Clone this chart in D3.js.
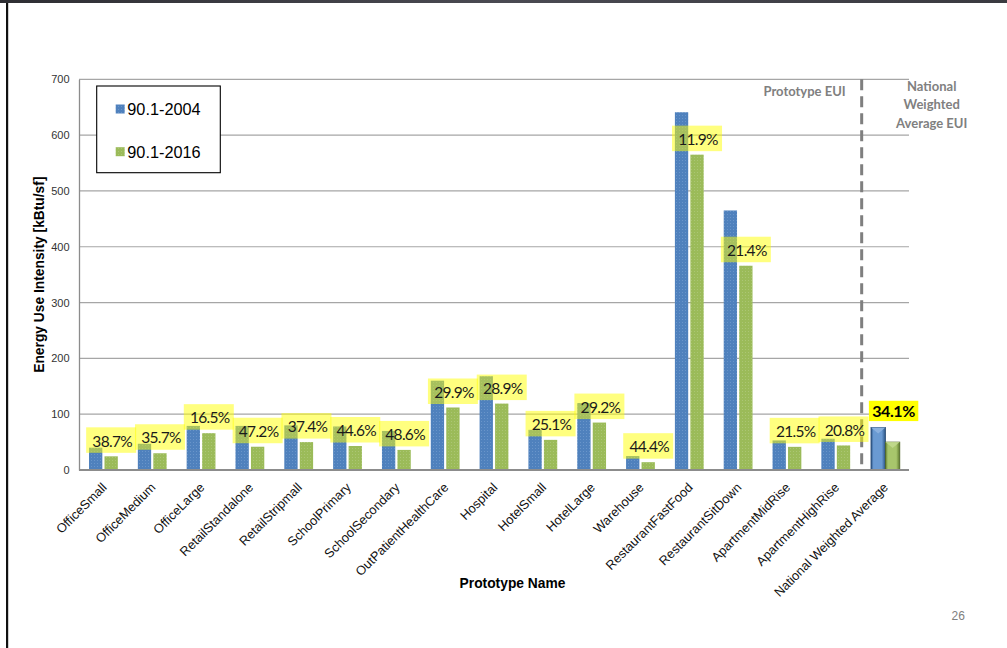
<!DOCTYPE html>
<html>
<head>
<meta charset="utf-8">
<script src="https://cdn.jsdelivr.net/npm/d3@7"></script>
<style>
  html, body { margin: 0; padding: 0; background: #fff; }
  svg { display: block; }
</style>
</head>
<body>
<svg id="chart" width="1007" height="648"></svg>
<script>
// ---------------- data ----------------
const categories = [
  "OfficeSmall", "OfficeMedium", "OfficeLarge", "RetailStandalone", "RetailStripmall",
  "SchoolPrimary", "SchoolSecondary", "OutPatientHealthCare", "Hospital", "HotelSmall",
  "HotelLarge", "Warehouse", "RestaurantFastFood", "RestaurantSitDown", "ApartmentMidRise",
  "ApartmentHighRise", "National Weighted Average"
];
const seriesNames = ["90.1-2004", "90.1-2016"];
const eui2004 = [40, 47, 79, 79, 80, 78, 70, 160, 168, 72, 120, 25, 641, 465, 53, 56, 76];
const eui2016 = [24.5, 30, 66, 41.7, 50, 43, 36, 112, 119, 54, 85, 14, 565, 366, 41.5, 44, 50];
const savings = ["38.7%", "35.7%", "16.5%", "47.2%", "37.4%", "44.6%", "48.6%", "29.9%", "28.9%",
                 "25.1%", "29.2%", "44.4%", "11.9%", "21.4%", "21.5%", "20.8%", "34.1%"];
const yTicks = [0, 100, 200, 300, 400, 500, 600, 700];
const nationalIndex = categories.length - 1;

// ---------------- setup ----------------
const svg = d3.select("#chart");
const X0 = 79, X1 = 909, Y0 = 470, Y1 = 79.3;
const SANS = "'Liberation Sans', Arial, sans-serif";
const CAL = "Lato, 'Open Sans', sans-serif";

const x = d3.scaleBand().domain(categories).range([X0, X1]).padding(0);
const y = d3.scaleLinear().domain([0, 700]).range([Y0, Y1]);
const inner = d3.scaleBand().domain(seriesNames).range([-14.4, 14.4]).paddingInner(0.14);
const innerNat = d3.scaleBand().domain(seriesNames).range([-13.6, 15.2]).paddingInner(0);

const defs = svg.append("defs");
// textured patterns for bars
[["pBlue", "#4f81bd", "#7aa1d2"], ["pGreen", "#9bbb59", "#b5cd85"]].forEach(([id, base, light]) => {
  const p = defs.append("pattern").attr("id", id).attr("patternUnits", "userSpaceOnUse")
    .attr("width", 3).attr("height", 3);
  p.append("rect").attr("width", 3).attr("height", 3).attr("fill", base);
  p.append("rect").attr("x", 1).attr("y", 1).attr("width", 1).attr("height", 1).attr("fill", light).attr("opacity", 0.6);
});
// gradients for national 3D bars
[["gBlue", "#2c5587", "#6a9ad2"], ["gGreen", "#5f7a2e", "#a8c66c"]].forEach(([id, dark, light]) => {
  const g = defs.append("linearGradient").attr("id", id).attr("x1", "0").attr("x2", "1").attr("y1", "0").attr("y2", "0");
  g.append("stop").attr("offset", "0%").attr("stop-color", dark);
  g.append("stop").attr("offset", "18%").attr("stop-color", light);
  g.append("stop").attr("offset", "75%").attr("stop-color", light);
  g.append("stop").attr("offset", "100%").attr("stop-color", dark);
});

// ---------------- slide frame ----------------
const topGrad = defs.append("linearGradient").attr("id", "gTop").attr("x1", "0").attr("x2", "1");
topGrad.append("stop").attr("offset", "0%").attr("stop-color", "#2e2e33");
topGrad.append("stop").attr("offset", "50%").attr("stop-color", "#4a4a52");
topGrad.append("stop").attr("offset", "100%").attr("stop-color", "#3a3a40");
svg.append("rect").attr("x", 0).attr("y", 0).attr("width", 1007).attr("height", 3).attr("fill", "url(#gTop)");
svg.append("rect").attr("x", 6).attr("y", 3).attr("width", 2.2).attr("height", 645).attr("fill", "#111");

// ---------------- grid & axes ----------------
svg.append("g").selectAll("line").data(yTicks.filter(t => t > 0)).join("line")
  .attr("x1", X0).attr("x2", X1)
  .attr("y1", d => y(d)).attr("y2", d => y(d))
  .attr("stroke", "#a6a6a6").attr("stroke-width", 1.2);

const yAxis = svg.append("g").attr("transform", `translate(${X0},0)`)
  .call(d3.axisLeft(y).tickValues(yTicks).tickSize(0).tickPadding(9.5));
yAxis.select(".domain").attr("stroke", "#8c8c8c").attr("stroke-width", 1.3);
yAxis.selectAll("text").attr("font-family", SANS)
  .attr("font-size", 11).attr("fill", "#333");

// ---------------- bars ----------------
const series = [eui2004, eui2016];
const barsG = svg.append("g");
categories.forEach((cat, i) => {
  if (i === nationalIndex) return;
  series.forEach((vals, s) => {
    barsG.append("rect")
      .attr("x", x(cat) + x.bandwidth() / 2 + inner(seriesNames[s]))
      .attr("y", y(vals[i]))
      .attr("width", inner.bandwidth())
      .attr("height", y(0) - y(vals[i]))
      .attr("fill", s === 0 ? "url(#pBlue)" : "url(#pGreen)");
  });
});
// national 3D bars
series.forEach((vals, s) => {
  const cat = categories[nationalIndex];
  const bx = x(cat) + x.bandwidth() / 2 + innerNat(seriesNames[s]);
  const bw = innerNat.bandwidth();
  const by = y(vals[nationalIndex]);
  barsG.append("rect").attr("x", bx).attr("y", by).attr("width", bw).attr("height", y(0) - by)
    .attr("fill", s === 0 ? "url(#gBlue)" : "url(#gGreen)")
    .attr("stroke", s === 0 ? "#24466f" : "#4f6626").attr("stroke-width", 0.8);
  barsG.append("polygon")
    .attr("points", `${bx},${by} ${bx + bw},${by} ${bx + bw / 2},${by + 6}`)
    .attr("fill", s === 0 ? "#8fb4e0" : "#c3da8f").attr("opacity", 0.85);
});

// x axis line
svg.append("line").attr("x1", X0).attr("x2", X1).attr("y1", Y0).attr("y2", Y0)
  .attr("stroke", "#8c8c8c").attr("stroke-width", 2.2);

// x labels
svg.append("g").selectAll("text").data(categories).join("text")
  .attr("transform", d => `translate(${x(d) + x.bandwidth() / 2 + 1},${Y0 + 15}) rotate(-45)`)
  .attr("text-anchor", "end").attr("dy", "0.35em")
  .attr("font-family", SANS).attr("font-size", 12.8)
  .attr("fill", "#111").text(d => d);

// ---------------- dashed separator ----------------
const sepX = x(categories[nationalIndex]) + 1.5;
svg.append("line").attr("x1", sepX).attr("x2", sepX).attr("y1", y(700)).attr("y2", Y0 - 3)
  .attr("stroke", "#7f7f7f").attr("stroke-width", 3).attr("stroke-dasharray", "11,6");

// ---------------- percentage labels ----------------
const labG = svg.append("g");
categories.forEach((cat, i) => {
  const cx = x(cat) + x.bandwidth() / 2 + inner(seriesNames[1]) + inner.bandwidth() / 2;
  if (i === nationalIndex) {
    const nx = x(cat) + x.bandwidth() / 2 + 9;
    const bottom = y(eui2004[i]) - 6.5;
    labG.append("rect").attr("x", nx - 24.7).attr("y", bottom - 20.3).attr("width", 49.4).attr("height", 20.3)
      .attr("fill", "#ffff00");
    labG.append("text").attr("x", nx).attr("y", bottom - 10.15).attr("dy", "0.36em")
      .attr("text-anchor", "middle").attr("font-family", CAL)
      .attr("font-weight", "bold").attr("font-size", 16).attr("letter-spacing", "-0.4")
      .attr("fill", "#000").text(savings[i]);
    return;
  }
  const bottom = y(eui2016[i]) - 3.5;
  labG.append("rect").attr("x", cx - 25).attr("y", bottom - 25.5).attr("width", 50).attr("height", 25.5)
    .attr("fill", "#ffff00").attr("opacity", 0.5);
  labG.append("text").attr("x", cx + 1).attr("y", bottom - 12.2).attr("dy", "0.38em")
    .attr("text-anchor", "middle").attr("font-family", CAL)
    .attr("font-size", 15.5).attr("letter-spacing", "-0.7").attr("fill", "#1a1a1a").text(savings[i]);
});

// ---------------- legend ----------------
const lg = svg.append("g");
lg.append("rect").attr("x", 96.7).attr("y", 86).attr("width", 123.6).attr("height", 86.7)
  .attr("fill", "#fff").attr("stroke", "#000").attr("stroke-width", 1.1);
seriesNames.forEach((n, s) => {
  const cy = 109 + s * 42.7;
  lg.append("rect").attr("x", 115.7).attr("y", cy - 4.5).attr("width", 9).attr("height", 9)
    .attr("fill", s === 0 ? "url(#pBlue)" : "url(#pGreen)");
  lg.append("text").attr("x", 127.3).attr("y", cy).attr("dy", "0.36em")
    .attr("font-family", SANS).attr("font-size", 16.3)
    .attr("fill", "#000").text(n);
});

// ---------------- titles & annotations ----------------
svg.append("text").attr("transform", `translate(39,${(Y0 + Y1) / 2}) rotate(-90)`)
  .attr("text-anchor", "middle").attr("dy", "0.35em").attr("font-family", SANS)
  .attr("font-weight", "bold").attr("font-size", 13.8).attr("fill", "#000")
  .text("Energy Use Intensity [kBtu/sf]");

svg.append("text").attr("x", 512.5).attr("y", 588).attr("text-anchor", "middle")
  .attr("font-family", SANS).attr("font-weight", "bold")
  .attr("font-size", 13.8).attr("fill", "#000").text("Prototype Name");

svg.append("text").attr("x", 845.7).attr("y", 96).attr("text-anchor", "end")
  .attr("font-family", CAL).attr("font-weight", "bold")
  .attr("font-size", 13).attr("fill", "#808080").text("Prototype EUI");

["National", "Weighted", "Average EUI"].forEach((t, k) => {
  svg.append("text").attr("x", 931.7).attr("y", 90.7 + k * 18.6).attr("text-anchor", "middle")
    .attr("font-family", CAL).attr("font-weight", "bold")
    .attr("font-size", 13).attr("fill", "#808080").text(t);
});

svg.append("text").attr("x", 951.5).attr("y", 619.5)
  .attr("font-family", SANS).attr("font-size", 12)
  .attr("fill", "#808080").text("26");
</script>
</body>
</html>
